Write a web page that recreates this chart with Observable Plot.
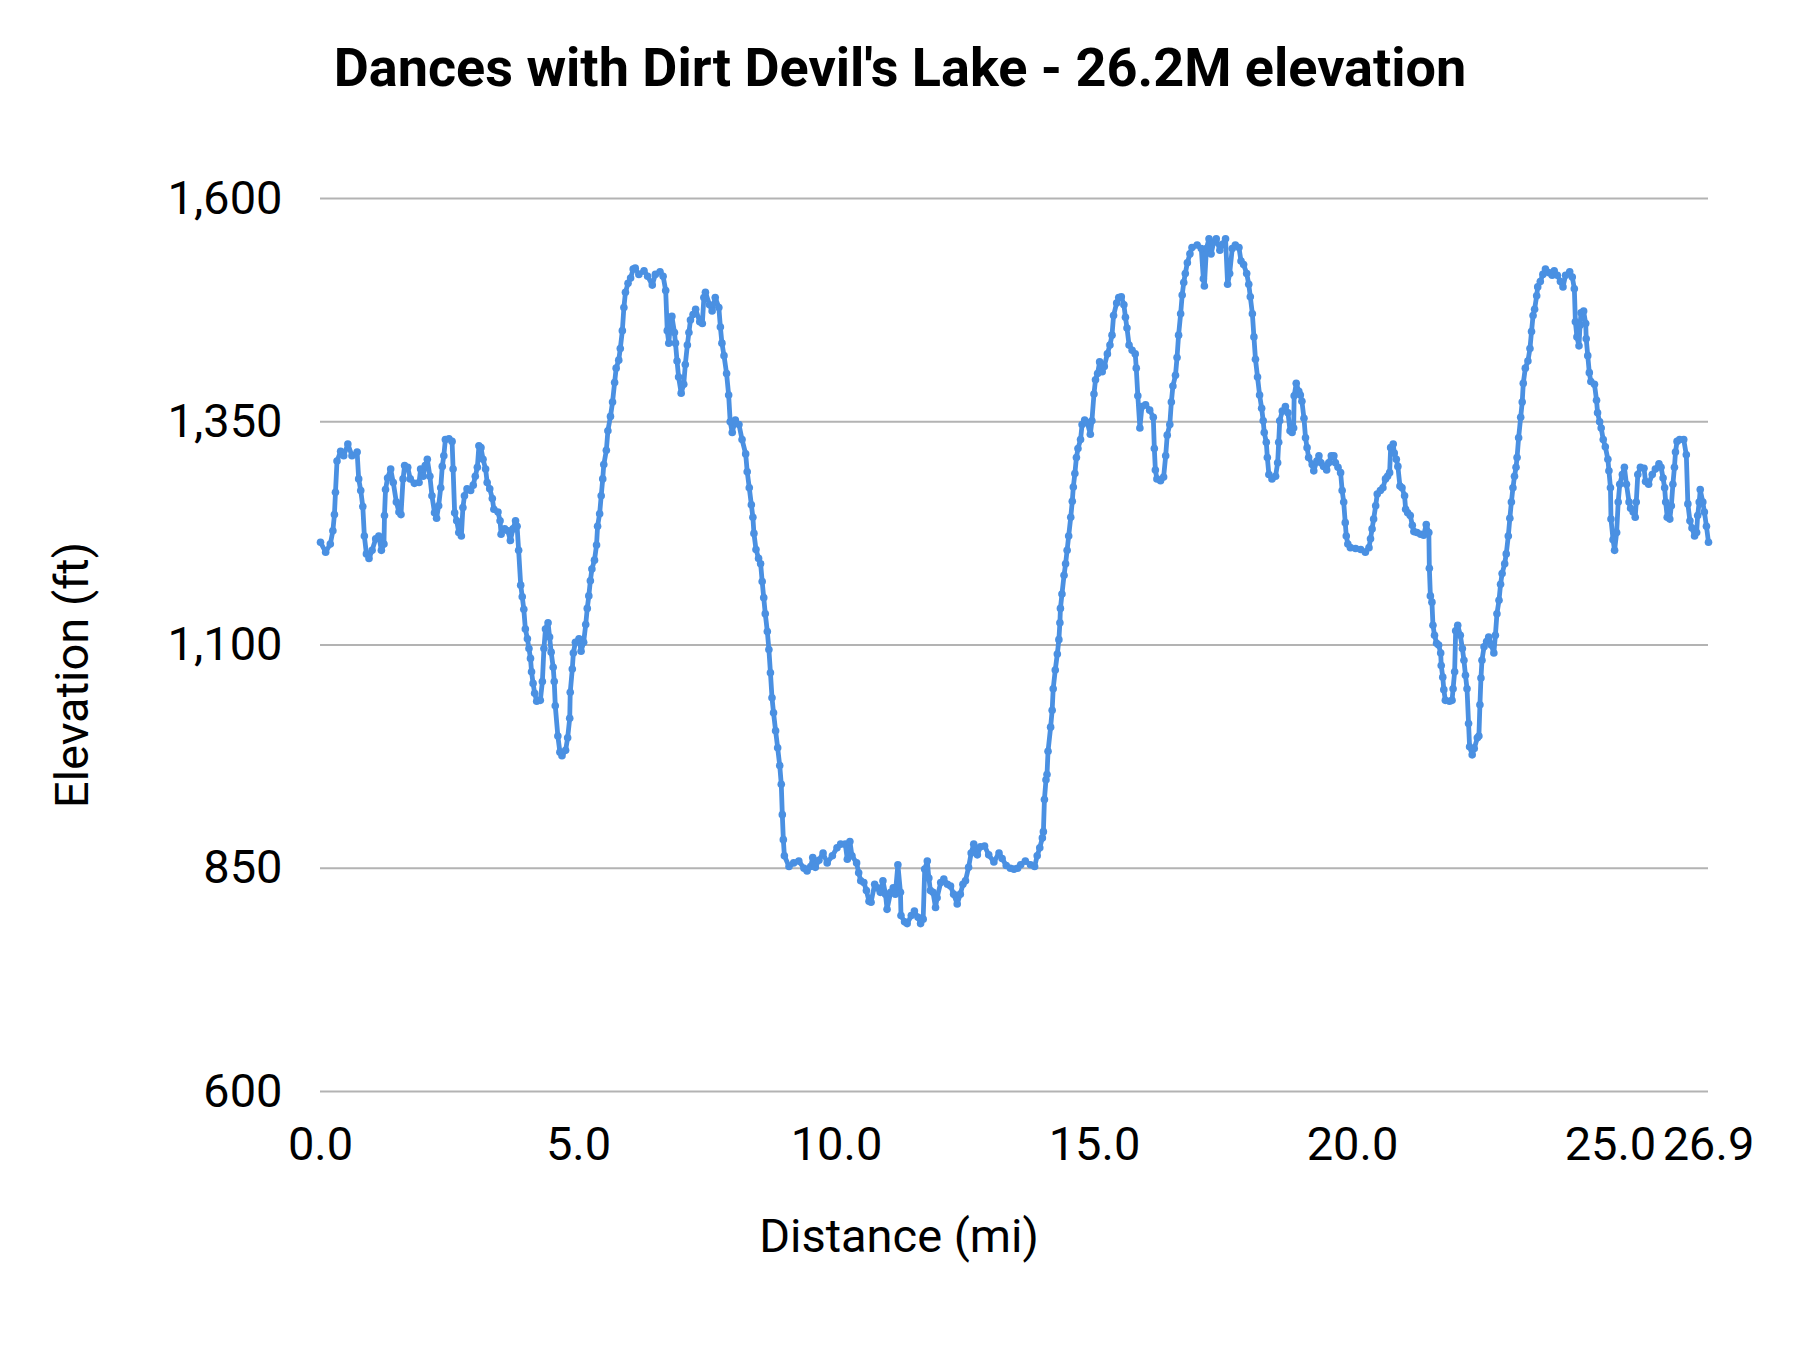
<!DOCTYPE html>
<html>
<head>
<meta charset="utf-8">
<script src="https://cdn.jsdelivr.net/npm/d3@7"></script>
<script src="https://cdn.jsdelivr.net/npm/@observablehq/plot@0.6"></script>
<style>
  html, body { margin: 0; padding: 0; background: #fff; }
  #chart { width: 1800px; height: 1350px; }
</style>
</head>
<body>
<div id="chart"></div>
<script>
const titleText = "Dances with Dirt Devil's Lake - 26.2M elevation";
const xLabel = "Distance (mi)";
const yLabel = "Elevation (ft)";

const xTicks = [0, 5, 10, 15, 20, 25, 26.9];
const yTicks = [600, 850, 1100, 1350, 1600];

const distanceMi = [
  0.00,0.10,0.19,0.24,0.27,0.29,0.32,0.39,0.45,0.53,0.61,0.71,0.74,0.78,0.82,0.85,0.89,0.94,1.00,1.07,
  1.13,1.18,1.23,1.24,1.26,1.30,1.36,1.41,1.47,1.52,1.56,1.60,1.63,1.69,1.74,1.82,1.91,1.94,1.99,2.03,
  2.07,2.12,2.16,2.21,2.25,2.29,2.33,2.36,2.39,2.42,2.49,2.55,2.57,2.60,2.64,2.68,2.73,2.76,2.79,2.84,
  2.91,2.96,3.00,3.04,3.07,3.11,3.15,3.20,3.23,3.28,3.33,3.36,3.44,3.48,3.50,3.57,3.63,3.68,3.73,3.78,
  3.81,3.84,3.88,3.91,3.94,3.97,4.01,4.04,4.07,4.09,4.12,4.15,4.19,4.26,4.30,4.33,4.36,4.41,4.44,4.47,
  4.51,4.53,4.55,4.60,4.64,4.68,4.75,4.79,4.83,4.84,4.88,4.90,4.94,5.01,5.05,5.10,5.14,5.17,5.20,5.23,
  5.26,5.31,5.35,5.37,5.41,5.44,5.47,5.49,5.54,5.57,5.62,5.66,5.70,5.73,5.78,5.81,5.85,5.88,5.91,5.96,
  6.01,6.06,6.10,6.17,6.27,6.34,6.43,6.49,6.58,6.64,6.69,6.72,6.75,6.78,6.81,6.86,6.88,6.91,6.94,6.99,
  7.04,7.07,7.11,7.14,7.17,7.22,7.27,7.35,7.40,7.43,7.46,7.54,7.59,7.65,7.72,7.75,7.78,7.82,7.87,7.91,
  7.94,7.98,8.04,8.11,8.17,8.24,8.27,8.31,8.35,8.38,8.40,8.44,8.49,8.53,8.56,8.59,8.62,8.66,8.69,8.72,
  8.75,8.78,8.82,8.86,8.90,
  8.93,8.95,8.97,8.99,9.08,9.17,9.27,9.37,9.43,9.50,9.54,9.59,9.66,9.74,9.82,9.92,10.01,10.08,10.17,10.21,
  10.26,10.30,10.39,10.43,10.47,10.53,10.58,10.63,10.67,10.74,10.79,10.85,10.90,10.95,10.98,11.05,11.10,11.14,11.19,11.24,
  11.25,11.32,11.37,11.45,11.51,11.58,11.63,11.68,11.71,11.76,11.79,11.82,11.87,11.92,11.95,12.02,12.08,12.15,12.21,12.27,
  12.34,12.40,12.45,12.50,12.56,12.61,12.66,12.73,12.79,12.87,12.95,13.05,13.15,13.21,13.29,13.37,13.44,13.51,13.57,13.66,
  13.76,13.84,13.89,13.94,13.99,14.01,14.03,14.06,14.08,14.10,
  14.15,14.18,14.20,14.24,14.28,14.31,14.33,14.34,14.37,14.41,14.44,14.47,14.50,14.54,14.57,14.59,14.62,14.65,14.68,14.73,
  14.76,14.81,14.86,14.92,14.95,14.99,15.02,15.06,15.10,15.15,15.19,15.25,15.30,15.34,15.37,15.43,15.47,15.52,15.57,15.60,
  15.63,15.67,15.73,15.79,15.81,15.84,15.88,15.92,15.99,16.07,16.14,16.16,16.18,16.21,16.28,16.34,16.38,16.41,16.46,16.49,
  16.52,16.57,16.60,16.63,16.67,16.70,16.73,16.76,16.80,16.85,16.89,16.99,17.07,17.11,17.13,17.17,17.22,17.26,17.31,17.36,
  17.43,17.49,17.54,17.58,17.62,17.67,17.73,17.80,17.84,17.89,17.95,17.99,18.02,18.06,18.09,18.12,18.16,18.20,18.24,
  18.27,18.29,18.33,18.35,18.38,18.44,18.51,18.55,18.57,18.59,18.64,18.70,18.75,18.79,18.83,18.86,18.87,18.91,18.96,18.99,
  19.02,19.06,19.09,19.12,19.15,19.22,19.25,19.31,19.35,19.39,19.44,19.50,19.54,19.59,19.64,19.67,19.72,19.77,19.80,19.83,
  19.86,19.88,19.91,19.96,20.06,20.16,20.25,20.32,20.35,20.38,20.41,20.45,20.48,20.54,20.59,20.64,20.68,20.72,20.74,20.79,
  20.81,20.85,20.88,20.92,20.96,21.01,21.03,21.07,21.12,21.16,21.19,21.25,21.32,21.38,21.43,21.48,21.49,21.51,21.54,21.56,
  21.59,21.63,21.67,21.71,21.72,21.75,21.77,21.80,21.88,21.93,21.95,21.98,22.00,22.04,22.09,22.13,22.16,22.19,22.22,22.25,
  22.27,22.32,22.36,22.42,22.45,22.47,22.49,22.51,22.55,22.60,22.64,22.69,22.74,22.77,22.80,
  22.84,22.87,22.90,22.95,22.98,23.02,23.05,23.08,23.11,23.14,23.17,23.19,23.22,23.26,23.29,23.31,23.35,23.40,23.44,23.47,
  23.50,23.53,23.57,23.59,23.64,23.69,23.74,23.80,23.87,23.91,23.97,24.03,24.08,24.13,24.21,24.26,24.30,24.32,24.35,24.39,
  24.41,24.43,24.48,24.52,24.53,24.56,24.59,24.62,24.69,24.73,24.75,24.79,24.82,24.86,24.90,24.95,24.97,25.00,25.01,25.05,
  25.08,25.12,25.15,25.18,25.23,25.27,25.31,25.36,25.39,25.44,25.48,25.50,25.53,25.58,25.65,25.68,25.74,25.81,25.87,25.94,
  25.98,26.02,26.05,26.07,26.10,26.15,26.18,26.21,26.24,26.26,26.29,26.34,26.42,26.47,26.50,26.54,26.58,26.63,26.67,26.69,
  26.72,26.74,26.79,26.82,26.86,26.90
];

const elevationFt = [
  1215,1204,1213,1228,1246,1271,1306,1317,1312,1325,1312,1316,1286,1273,1255,1222,1202,1197,1206,1219,
  1222,1206,1213,1245,1274,1287,1297,1282,1260,1249,1246,1286,1301,1299,1286,1281,1282,1297,1289,1301,
  1308,1289,1267,1248,1242,1256,1276,1300,1312,1330,1331,1328,1297,1248,1239,1226,1222,1254,1267,1275,
  1273,1279,1289,1299,1323,1321,1308,1297,1282,1275,1264,1252,1249,1239,1224,1230,1228,1217,1230,1239,
  1233,1206,1167,1154,1140,1118,1107,1096,1085,1070,1057,1046,1037,1038,1059,1096,1118,1125,1109,1092,
  1075,1059,1032,998,980,976,982,996,1018,1047,1073,1091,1103,1107,1093,1103,1123,1141,1155,1172,
  1185,1195,1212,1233,1247,1267,1286,1302,1318,1340,1356,1372,1394,1410,1419,1432,1452,1478,1495,1505,
  1511,1521,1522,1515,1519,1513,1503,1515,1518,1513,1497,1452,1438,1458,1468,1450,1438,1418,1400,1382,
  1392,1414,1436,1450,1464,1470,1476,1462,1460,1489,1495,1481,1474,1489,1478,1456,1438,1424,1404,1380,
  1350,1338,1352,1347,1330,1314,1294,1276,1257,1243,1225,1207,1197,1191,1171,1153,1135,1115,1095,1069,
  1041,1024,1004,985,965,
  944,910,882,864,852,856,858,850,847,852,862,851,859,867,856,864,873,877,877,860,
  880,864,856,845,836,834,825,813,812,832,828,823,836,821,804,823,828,821,854,823,
  797,790,788,797,802,795,788,793,849,858,839,825,823,806,817,834,838,832,830,821,
  810,821,832,836,851,867,877,865,874,875,865,857,867,861,853,850,849,850,854,858,
  854,852,864,873,884,891,927,949,955,981,
  1008,1027,1051,1072,1090,1106,1125,1141,1157,1178,1191,1206,1222,1243,1261,1277,1292,1310,1320,1330,
  1347,1352,1349,1336,1351,1381,1397,1404,1417,1406,1412,1426,1436,1447,1469,1483,1489,1490,1481,1467,
  1455,1436,1430,1426,1410,1379,1343,1367,1369,1363,1355,1320,1296,1286,1284,1288,1312,1335,1347,1372,
  1390,1402,1422,1447,1471,1492,1506,1516,1528,1538,1545,1548,1544,1510,1502,1544,1555,1538,1551,1555,
  1542,1549,1555,1504,1516,1544,1548,1545,1530,1526,1516,1504,1490,1471,1445,1420,1400,1380,1365,
  1351,1338,1327,1310,1291,1286,1289,1304,1327,1351,1362,1367,1360,1340,1338,1343,1379,1393,1384,1380,
  1373,1354,1332,1321,1310,1302,1295,1306,1312,1304,1300,1296,1304,1312,1312,1304,1299,1293,1273,1260,
  1237,1222,1213,1209,1208,1207,1204,1209,1219,1230,1241,1256,1269,1273,1276,1286,1289,1293,1321,1325,
  1315,1308,1300,1278,1276,1267,1252,1248,1245,1234,1227,1226,1224,1223,1235,1226,1186,1155,1148,1122,
  1111,1102,1100,1091,1077,1064,1050,1038,1037,1038,1051,1070,1116,1122,1111,1096,1083,1066,1051,1012,
  986,977,984,996,998,1033,1063,1083,1098,1104,1109,1100,1091,1111,1135,
  1150,1168,1180,1191,1202,1222,1242,1260,1276,1289,1299,1310,1332,1355,1372,1393,1410,1418,1432,1451,
  1469,1476,1491,1501,1507,1515,1521,1517,1514,1519,1514,1507,1501,1514,1518,1512,1499,1462,1445,1435,
  1458,1472,1474,1460,1443,1424,1405,1395,1392,1374,1360,1350,1343,1330,1322,1308,1295,1276,1241,1218,
  1206,1226,1260,1280,1291,1299,1280,1260,1253,1249,1243,1260,1291,1299,1298,1283,1280,1291,1297,1303,
  1299,1287,1276,1260,1243,1241,1256,1280,1299,1316,1328,1330,1330,1313,1258,1239,1231,1222,1226,1245,
  1260,1274,1260,1249,1233,1215
];

const data = distanceMi.map((d, i) => ({ distance: d, elevation: elevationFt[i] }));

const lineColor = "#4a90e2";
const gridColor = "#b3b3b3";

const chart = Plot.plot({
  width: 1800,
  height: 1350,
  marginLeft: 320,
  marginRight: 92,
  marginTop: 198,
  marginBottom: 259,
  style: { fontFamily: "Roboto", fontSize: "47px", color: "#000", background: "#fff" },
  x: { domain: [0, 26.9] },
  y: { domain: [600, 1600] },
  marks: [
    Plot.gridY(yTicks, { stroke: gridColor, strokeOpacity: 1, strokeWidth: 2 }),
    Plot.axisY({ ticks: yTicks, tickFormat: d3.format(","), tickSize: 0, tickPadding: 38, fontSize: 47, label: null }),
    Plot.axisX({ ticks: xTicks, tickFormat: d => d.toFixed(1), tickSize: 0, tickPadding: 35, fontSize: 47, label: null }),
    Plot.line(data, { x: "distance", y: "elevation", stroke: lineColor, strokeWidth: 4.8, strokeLinejoin: "round", strokeLinecap: "round" }),
    Plot.dot(data, { x: "distance", y: "elevation", r: 3.8, fill: lineColor, stroke: "none" })
  ]
});

const svg = d3.select(chart);
svg.append("text")
  .attr("x", 900).attr("y", 86)
  .attr("text-anchor", "middle")
  .attr("font-family", "Roboto").attr("font-weight", 700).attr("font-size", 54)
  .attr("fill", "#000")
  .text(titleText);
svg.append("text")
  .attr("x", 899).attr("y", 1252)
  .attr("text-anchor", "middle")
  .attr("font-family", "Roboto").attr("font-size", 47)
  .attr("fill", "#000")
  .text(xLabel);
svg.append("text")
  .attr("transform", "translate(88,675) rotate(-90)")
  .attr("text-anchor", "middle")
  .attr("font-family", "Roboto").attr("font-size", 47)
  .attr("fill", "#000")
  .text(yLabel);

document.getElementById("chart").appendChild(chart);
</script>
</body>
</html>
